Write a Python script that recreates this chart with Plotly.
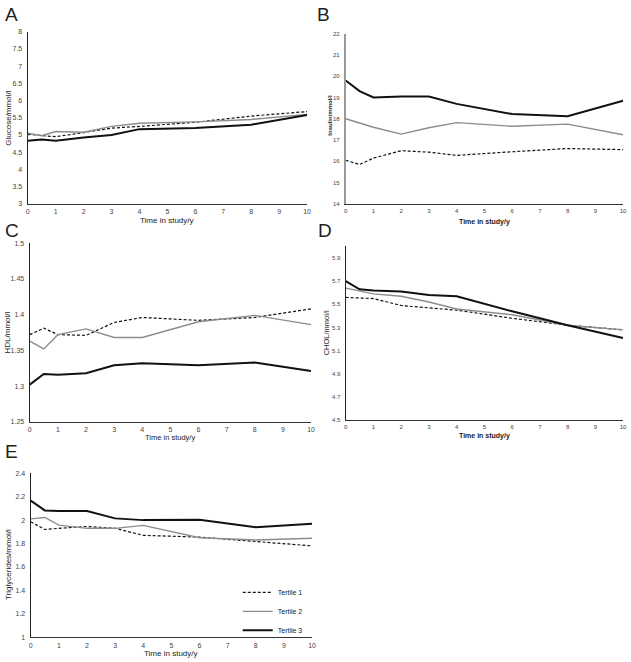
import plotly.graph_objects as go

W, H = 631, 662

# ---------------- data ----------------
time_y = [0, 0.5, 1, 2, 3, 4, 6, 8, 10]
series_names = ["Tertile 1", "Tertile 2", "Tertile 3"]

glucose_t1 = [5.02, 4.98, 4.95, 5.07, 5.20, 5.25, 5.37, 5.55, 5.68]
glucose_t2 = [5.05, 4.98, 5.10, 5.08, 5.25, 5.34, 5.38, 5.45, 5.60]
glucose_t3 = [4.83, 4.87, 4.83, 4.93, 5.00, 5.17, 5.20, 5.30, 5.58]

insulin_t1 = [16.05, 15.85, 16.15, 16.50, 16.43, 16.28, 16.45, 16.60, 16.55]
insulin_t2 = [18.00, 17.80, 17.60, 17.28, 17.58, 17.82, 17.65, 17.75, 17.25]
insulin_t3 = [19.80, 19.30, 19.00, 19.05, 19.05, 18.70, 18.22, 18.12, 18.85]

hdl_t1 = [1.372, 1.381, 1.372, 1.371, 1.389, 1.396, 1.392, 1.396, 1.408]
hdl_t2 = [1.363, 1.352, 1.372, 1.380, 1.368, 1.368, 1.390, 1.399, 1.386]
hdl_t3 = [1.302, 1.317, 1.316, 1.318, 1.329, 1.332, 1.329, 1.333, 1.321]

chol_t1 = [5.56, 5.555, 5.55, 5.49, 5.47, 5.45, 5.38, 5.32, 5.28]
chol_t2 = [5.64, 5.615, 5.59, 5.57, 5.52, 5.46, 5.41, 5.32, 5.28]
chol_t3 = [5.70, 5.63, 5.62, 5.61, 5.58, 5.57, 5.44, 5.32, 5.21]

tg_t1 = [1.986, 1.92, 1.93, 1.946, 1.93, 1.87, 1.855, 1.815, 1.78]
tg_t2 = [2.011, 2.023, 1.957, 1.93, 1.93, 1.955, 1.85, 1.83, 1.845]
tg_t3 = [2.166, 2.083, 2.077, 2.077, 2.015, 2.00, 2.003, 1.94, 1.97]

x_ticks = list(range(0, 11))
glucose_ticks = [3, 3.5, 4, 4.5, 5, 5.5, 6, 6.5, 7, 7.5, 8]
insulin_ticks = list(range(14, 23))
hdl_ticks = [1.25, 1.3, 1.35, 1.4, 1.45, 1.5]
chol_ticks = [4.5, 4.7, 4.9, 5.1, 5.3, 5.5, 5.7, 5.9]
tg_ticks = [1, 1.2, 1.4, 1.6, 1.8, 2, 2.2, 2.4]

panels = [
    # letter, series, yrange, yticks, ylabel
    ("A", [glucose_t1, glucose_t2, glucose_t3], [3, 8], glucose_ticks, "Glucose/mmol/l"),
    ("B", [insulin_t1, insulin_t2, insulin_t3], [14, 22], insulin_ticks, "Insulin/mmol/l"),
    ("C", [hdl_t1, hdl_t2, hdl_t3], [1.25, 1.5], hdl_ticks, "HDL/mmol/l"),
    ("D", [chol_t1, chol_t2, chol_t3], [4.5, 6.0], chol_ticks, "CHOL/mmol/l"),
    ("E", [tg_t1, tg_t2, tg_t3], [1, 2.4], tg_ticks, "Triglycerides/mmol/l"),
]

# ---------------- layout geometry (pixels) ----------------
# (x_left, x_right, y_top, y_bottom)
boxes = [
    (26, 308, 28, 202),
    (347, 627, 30, 202),
    (28, 312, 241.7, 422.3),
    (347, 627, 245, 420.7),
    (29, 313, 474.3, 640),
]

def px_x(v):
    return v / W

def px_y(v):
    return 1 - v / H

line_styles = [
    dict(color="#111111", width=1.2, dash="3px,2px"),
    dict(color="#8c8c8c", width=1.4),
    dict(color="#111111", width=2.0),
]

fig = go.Figure()
font_main = "Liberation Sans, Arial, sans-serif"

for i, (letter, series, yr, yt, ylab) in enumerate(panels):
    n = i + 1
    xa = "x" if n == 1 else f"x{n}"
    ya = "y" if n == 1 else f"y{n}"
    for j, (vals, name) in enumerate(zip(series, series_names)):
        fig.add_trace(go.Scatter(
            x=time_y, y=vals, mode="lines", name=name,
            line=line_styles[j], xaxis=xa, yaxis=ya,
            showlegend=(n == 5), hoverinfo="x+y+name",
        ))
    xl, xr, yt_px, yb_px = boxes[i]
    right_col = letter in ("B", "D")
    tick_size = 6 if right_col else 7
    left_line_color = "#9a9a9a" if letter == "B" else "#222222"
    left_line_w = 1.6 if letter == "B" else 1.2
    fig.update_layout(**{
        ("xaxis" if n == 1 else f"xaxis{n}"): dict(
            domain=[px_x(xl), px_x(xr)], anchor=ya, range=[0, 10],
            tickvals=x_ticks, showgrid=False, zeroline=False,
            showline=True, linecolor="#333333", linewidth=1,
            ticks="", ticklabelstandoff=1, ticklabeloverflow="allow",
            tickfont=dict(size=tick_size, color="#444444", family=font_main),
        ),
        ("yaxis" if n == 1 else f"yaxis{n}"): dict(
            domain=[px_y(yb_px), px_y(yt_px)], anchor=xa, range=yr,
            tickvals=yt, showgrid=False, zeroline=False,
            showline=True, linecolor=left_line_color, linewidth=left_line_w,
            ticks="", ticklabelstandoff=3, ticklabeloverflow="allow",
            tickfont=dict(size=tick_size, color="#444444", family=font_main),
        ),
    })

annotations = []
# panel letters
letter_pos = {"A": (1, -2), "B": (316, -2), "C": (1, 216), "D": (317, 216), "E": (1, 440)}
for letter, (lx, ly) in letter_pos.items():
    annotations.append(dict(
        text=letter, x=px_x(lx), y=px_y(ly), xref="paper", yref="paper",
        xanchor="left", yanchor="top", showarrow=False,
        font=dict(size=19, color="#222222", family=font_main),
    ))

# x-axis titles
xtitles = [
    ("A", 167, 219, 8, False),
    ("B", 487, 220, 7, True),
    ("C", 170, 438.5, 7.5, False),
    ("D", 487, 437, 7, True),
    ("E", 171, 656, 8, False),
]
for letter, cx, cy, fs, bold in xtitles:
    txt = "Time in study/y"
    if bold:
        txt = "<b>" + txt + "</b>"
    annotations.append(dict(
        text=txt, x=px_x(cx), y=px_y(cy), xref="paper", yref="paper",
        xanchor="center", yanchor="middle", showarrow=False,
        font=dict(size=fs, color="#222222", family=font_main),
    ))

# y-axis titles
ytitles = [
    ("Glucose/mmol/l", 7, 115, 8, False),
    ("Insulin/mmol/l", 331, 112, 6, True),
    ("HDL/mmol/l", 6, 332, 8, False),
    ("CHOL/mmol/l", 328, 332, 7.5, False),
    ("Triglycerides/mmol/l", 6, 566, 8, False),
]
for txt, cx, cy, fs, bold in ytitles:
    if bold:
        txt = "<b>" + txt + "</b>"
    annotations.append(dict(
        text=txt, x=px_x(cx), y=px_y(cy), xref="paper", yref="paper",
        xanchor="center", yanchor="middle", showarrow=False, textangle=-90,
        font=dict(size=fs, color="#222222", family=font_main),
    ))

fig.update_layout(
    width=W, height=H,
    margin=dict(l=0, r=0, t=0, b=0),
    paper_bgcolor="white", plot_bgcolor="white",
    showlegend=True,
    legend=dict(
        x=px_x(238), y=px_y(580), xanchor="left", yanchor="top",
        bgcolor="rgba(0,0,0,0)", borderwidth=0,
        font=dict(size=7, color="#222222", family=font_main),
        tracegroupgap=0, itemwidth=30,
    ),
    annotations=annotations,
)

fig.write_html(
    "out.html",
    config={"displayModeBar": False},
    post_script="document.body.style.margin='0';document.body.style.overflow='hidden';",
)
